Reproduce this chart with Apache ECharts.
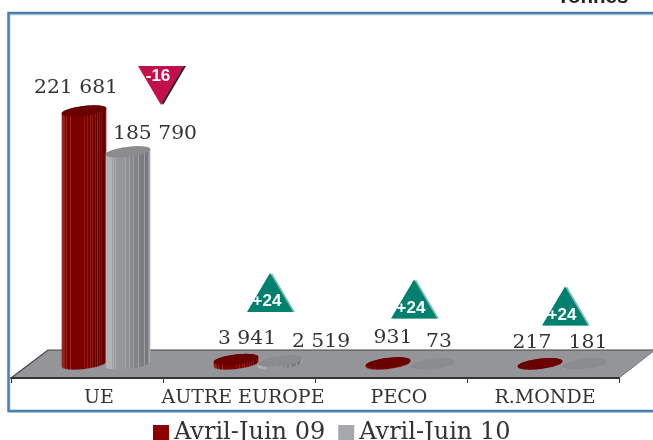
<!DOCTYPE html>
<html><head><meta charset="utf-8">
<style>html,body{margin:0;padding:0;background:#fff}#c{width:653px;height:440px}</style>
<script src="https://cdn.jsdelivr.net/npm/echarts@6/dist/echarts.min.js"></script>
</head><body><div id="c"></div>
<script>
const categories = ['UE', 'AUTRE EUROPE', 'PECO', 'R.MONDE'];
const seriesNames = ['Avril-Juin 09', 'Avril-Juin 10'];
const values09 = [221681, 3941, 931, 217];
const values10 = [185790, 2519, 73, 181];
const changes = ['-16', '+24', '+24', '+24'];

// layout only
const labelOffset09 = [[-8, -23], [11, -20.5], [5, -25], [-8, -20]];
const labelOffset10 = [[27, -18], [41, -19], [7, -22], [4, -20]];
const triOffset = [[74, -278.5], [31, -71.5], [23, -65], [22, -58]];
const axisShift = [24, 8, 16, 4];
const SERIF = '"DejaVu Serif"';
const pxPerValue = 253 / 221681;
const depthShift = 19, rx = 22.5, ry = 5, tilt = 0.12;
const redPattern = [.3,.3,.3,.3,0,.3,0,0,0,.35,0,0,0,0,0,0,0,0,0,0,0,0,0,.2,0,0,.25,0,0,.25,-.1,.25,-.2,-.2,.2,-.3,.25,-.3,.2,-.3,.15,-.3,-.3,-.3,.1];
const greyPattern = [.4,.4,.4,.4,.4,.4,.1,.4,0,.3,0,0,0,0,0,0,0,0,0,0,.2,-.1,-.1,-.1,.15,-.2,-.2,-.2,.1,-.3,-.3,-.3,-.3,.15,-.4,-.4,-.4,-.4,-.4,.1,-.5,-.5,-.5,0,.2];

function ribs(pat, base, dark, light) {
  const stops = [];
  const c = echarts.color;
  pat.forEach((p, i) => {
    const col = p >= 0 ? c.lerp(p, [base, light]) : c.lerp(-p, [base, dark]);
    stops.push({offset: i / pat.length, color: col});
    stops.push({offset: (i + 1) / pat.length, color: col});
  });
  return stops;
}
const redStops = ribs(redPattern, '#7d0000', '#3a0000', '#d0706a');
const greyStops = ribs(greyPattern, '#96979a', '#56575a', '#dcdde0');

function ellipsePoints(cx, cy, from, to) {
  const pts = [], n = 48;
  for (let k = 0; k <= n; k++) {
    const a = from + (to - from) * k / n;
    const x = rx * Math.cos(a), y = ry * Math.sin(a);
    pts.push([cx + x * Math.cos(tilt) + y * Math.sin(tilt), cy - x * Math.sin(tilt) + y * Math.cos(tilt)]);
  }
  return pts;
}

function cylinder(values, offsetX, stops, topColor, labelOff) {
  return function (params, api) {
    const i = params.dataIndex;
    const v = api.value(1);
    const base = api.coord([i, 0]);
    const top = api.coord([i, v]);
    const cx = base[0] + depthShift + offsetX;
    const fill = new echarts.graphic.LinearGradient(cx - rx, 0, cx + rx, 0, stops, true);
    const off = labelOff[i];
    const outline = ellipsePoints(cx, base[1], 0, Math.PI).concat(ellipsePoints(cx, top[1], Math.PI, 2 * Math.PI));
    return {
      type: 'group',
      children: [
        {type: 'polygon', shape: {points: outline}, style: {fill: fill}},
        {type: 'polygon', shape: {points: ellipsePoints(cx, top[1], 0, 2 * Math.PI)}, style: {fill: topColor}},
        {type: 'text', x: cx + off[0], y: top[1] + off[1], scaleX: 1.13,
          style: {text: String(values[i]).replace(/(\d)(\d{3})$/, '$1 $2'), font: '18px ' + SERIF, fill: '#333', align: 'center', verticalAlign: 'middle'}, z2: 10}
      ]
    };
  };
}

function triangle(params, api) {
  const i = params.dataIndex;
  const p = api.coord([i, 0]);
  const o = triOffset[i];
  const down = changes[i][0] === '-';
  const cx = p[0] + o[0], cy = p[1] + o[1];
  const w = 23, h = 19.5;
  const pts = down
    ? [[cx - w, cy - h], [cx + w, cy - h], [cx, cy + h]]
    : [[cx, cy - h], [cx - w, cy + h], [cx + w, cy + h]];
  const shadow = pts.map(q => [q[0] + 2, q[1]]);
  return {
    type: 'group',
    children: [
      {type: 'polygon', shape: {points: shadow}, style: {fill: down ? '#222' : '#7fbdb5'}},
      {type: 'polygon', shape: {points: pts}, style: {fill: down ? '#c4104a' : '#00806f'}},
      {type: 'text', x: cx - 3, y: down ? cy - 9 : cy + 9,
        style: {text: changes[i], font: 'bold 17px "Liberation Sans"', fill: '#fff', align: 'center', verticalAlign: 'middle'}}
    ]
  };
}

const chart = echarts.init(document.getElementById('c'), null, {renderer: 'canvas'});
const zeroY = 364, gridTop = 14, gridBottom = 378;
chart.setOption({
  animation: false,
  backgroundColor: '#fff',
  grid: {left: 11, width: 608, top: gridTop, height: gridBottom - gridTop},
  graphic: [
    {type: 'text', z: 0, x: 557, y: -13, style: {text: 'Tonnes', font: 'bold 20.5px "Liberation Sans"', fill: '#222'}},
    {type: 'polygon', z: 0, shape: {points: [[11, 378], [619, 378], [655, 350], [48, 350]]}, style: {fill: '#939598'}},
    {type: 'polyline', z: 0, shape: {points: [[11, 378], [48, 350], [655, 350]]}, style: {stroke: '#444', lineWidth: 1.2, fill: 'none'}},
    {type: 'line', z: 0, shape: {x1: 619, y1: 378, x2: 655, y2: 350}, style: {stroke: '#777', lineWidth: 1}},
    {type: 'polyline', z: 0, shape: {points: [[660, 14.5], [9.5, 14.5], [9.5, 412], [660, 412]]}, style: {stroke: '#c9d9e8', lineWidth: 2, fill: 'none'}},
    {type: 'polyline', z: 0, shape: {points: [[660, 13], [8.5, 13], [8.5, 411], [660, 411]]}, style: {stroke: '#4a7fae', lineWidth: 2.5, fill: 'none'}}
  ],
  legend: {
    left: 153, top: 421, padding: 0, itemWidth: 16, itemHeight: 16, itemGap: 13, itemStyle: {borderWidth: 0}, icon: 'rect',
    data: seriesNames, selectedMode: false,
    textStyle: {fontFamily: SERIF, fontSize: 24, color: '#333'}
  },
  xAxis: {
    type: 'category', data: categories, position: 'bottom',
    axisLine: {show: true, onZero: false, lineStyle: {color: '#333', width: 2}},
    axisTick: {show: true, length: 5, lineStyle: {color: '#333', width: 1}, alignWithLabel: false},
    axisLabel: {
      interval: 0, margin: 11, color: '#333', fontFamily: SERIF, fontSize: 19, hideOverlap: false,
      formatter: (v, i) => '{s' + i + '|' + v + '}',
      rich: Object.fromEntries(axisShift.map((s, i) => ['s' + i, {padding: [0, 0, 0, s], fontFamily: SERIF, fontSize: 19, color: '#333'}]))
    }
  },
  yAxis: {
    type: 'value', show: false, splitLine: {show: false},
    min: -(gridBottom - zeroY) / pxPerValue, max: (zeroY - gridTop) / pxPerValue
  },
  series: [
    {name: seriesNames[0], type: 'custom', z: 3, itemStyle: {color: '#8b0000'},
      data: values09.map((v, i) => [i, v]), encode: {x: 0, y: 1},
      renderItem: cylinder(values09, -22, redStops, '#6b0000', labelOffset09)},
    {name: seriesNames[1], type: 'custom', z: 4, itemStyle: {color: '#a7a8aa'},
      data: values10.map((v, i) => [i, v]), encode: {x: 0, y: 1},
      renderItem: cylinder(values10, 22, greyStops, '#8b8c8e', labelOffset10)},
    {name: 'Evolution', type: 'custom', z: 5,
      data: changes.map((c, i) => [i, 0]), encode: {x: 0, y: 1},
      renderItem: triangle}
  ]
});
</script></body></html>
